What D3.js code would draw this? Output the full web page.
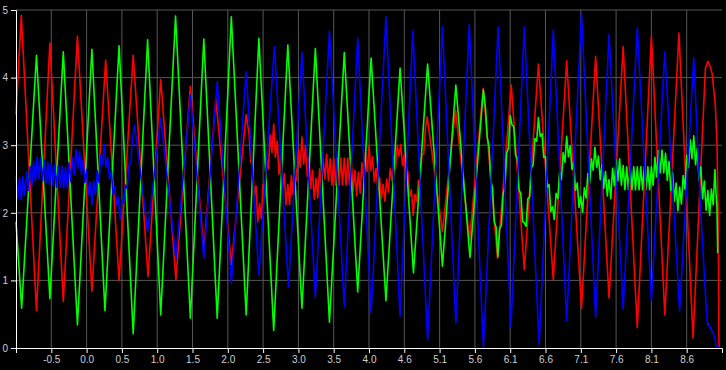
<!DOCTYPE html>
<html><head><meta charset="utf-8">
<script src="https://cdn.jsdelivr.net/npm/d3@7"></script>
<style>
html,body{margin:0;padding:0;background:#000;}
svg{display:block;}
</style></head><body>
<svg id="chart" width="726" height="370"></svg>
<script>
const xTickValues = [-0.5,0,0.5,1,1.5,2,2.5,3,3.5,4,4.5,5,5.5,6,6.5,7,7.5,8,8.5];
const xTickLabels = ["-0.5","0.0","0.5","1.0","1.5","2.0","2.5","3.0","3.5","4.0","4.6","5.1","5.6","6.1","6.6","7.1","7.6","8.1","8.6"];
const yTickValues = [0,1,2,3,4,5];

const red = [[-1.0,3.45],[-0.925,4.92],[-0.71,0.55],[-0.52,4.51],[-0.33,0.69],[-0.13,4.61],[0.075,0.84],[0.27,4.26],[0.46,1.0],[0.66,4.33],[0.87,1.06],[1.05,3.97],[1.265,1.01],[1.47,3.87],[1.66,1.43],[1.83,3.69],[2.05,1.23],[2.26,3.45],
[2.300,3.18],[2.325,2.75],[2.350,2.74],[2.375,2.25],[2.400,2.40],[2.425,1.87],[2.450,2.14],[2.475,1.92],[2.500,2.42],[2.525,2.23],[2.550,2.80],[2.575,2.65],[2.600,3.15],[2.625,2.89],[2.650,3.31],[2.675,2.82],[2.700,3.06],[2.725,2.57],[2.750,2.81],[2.775,2.33],[2.800,2.58],[2.825,2.12],[2.850,2.42],[2.875,2.12],[2.900,2.55],[2.925,2.27],[2.950,2.74],[2.975,2.48],[3.000,2.94],[3.025,2.67],[3.050,3.12],[3.075,2.72],[3.100,2.99],[3.125,2.54],[3.150,2.81],[3.175,2.36],[3.200,2.63],[3.225,2.20],[3.250,2.51],[3.275,2.22],[3.300,2.65],[3.325,2.36],[3.350,2.79],[3.375,2.50],[3.400,2.87],[3.425,2.48],[3.450,2.80],[3.475,2.41],[3.500,2.81],[3.525,2.41],[3.550,2.81],[3.575,2.41],[3.600,2.81],[3.625,2.41],[3.650,2.81],[3.675,2.41],[3.700,2.81],[3.725,2.41],[3.750,2.76],[3.775,2.32],[3.800,2.63],[3.825,2.25],[3.850,2.60],[3.875,2.29],[3.900,2.74],[3.925,2.47],[3.950,2.90],[3.975,2.61],[4.000,3.00],[4.025,2.63],[4.050,2.83],[4.075,2.46],[4.100,2.66],[4.125,2.33],[4.150,2.52],[4.175,2.21],[4.200,2.42],[4.225,2.17],[4.250,2.50],[4.275,2.31],[4.300,2.65],[4.325,2.48],[4.350,2.83],[4.375,2.65],[4.400,3.00],[4.425,2.84],[4.450,3.01],[4.475,2.70],[4.500,2.86],[4.525,2.49],[4.550,2.61],[4.575,2.24],[4.600,2.34],[4.625,1.96],[4.650,2.27],[4.675,2.17],[4.700,2.48],[4.725,2.45],[4.750,2.86],[4.775,2.87],[4.800,3.26],[4.825,3.42],
[5.04,1.72],[5.226,3.52],[5.425,1.60],[5.618,3.84],[5.82,1.33],[6.015,3.89],[6.20,1.16],[6.40,4.20],[6.61,1.01],[6.80,4.25],[7.01,0.59],[7.21,4.31],[7.40,0.74],[7.60,4.46],[7.80,0.30],[8.00,4.61],[8.19,0.49],[8.39,4.66],[8.59,0.15],[8.765,4.14],[8.80,4.24],[8.83,4.17],[8.86,4.06],[8.905,3.60],[8.93,3.0],[8.943,2.12],[8.95,1.40],[8.957,0.0]];

const green = [[-1.0,1.87],[-0.92,0.59],[-0.71,4.33],[-0.52,0.73],[-0.33,4.38],[-0.13,0.34],[0.075,4.42],[0.26,0.55],[0.46,4.47],[0.66,0.21],[0.864,4.56],[1.05,0.49],[1.26,4.91],[1.47,0.44],[1.66,4.57],[1.85,0.44],[2.05,4.90],[2.26,0.49],[2.44,4.58],[2.65,0.26],[2.85,4.48],[3.05,0.59],[3.24,4.43],[3.44,0.38],[3.65,4.37],[3.84,0.83],[4.03,4.29],[4.24,0.70],[4.44,4.14],[4.63,1.11],[4.83,4.20],[5.04,1.21],[5.23,3.89],[5.43,1.34],[5.62,3.82],
[5.650,3.55],[5.675,3.11],[5.700,2.98],[5.725,2.48],[5.750,2.36],[5.775,1.86],[5.800,1.79],[5.825,1.35],[5.850,1.77],[5.875,1.81],[5.900,2.28],[5.925,2.38],[5.950,2.88],[5.975,2.96],[6.000,3.44],[6.025,3.30],[6.050,3.28],[6.075,2.86],[6.100,2.80],[6.125,2.34],[6.150,2.28],[6.175,1.87],[6.200,1.85],[6.225,1.80],[6.250,2.21],[6.275,2.23],[6.300,2.67],[6.325,2.71],[6.350,3.10],[6.375,3.06],[6.400,3.41],[6.425,3.13],[6.450,3.17],[6.475,2.82],[6.500,2.83],[6.525,2.38],[6.550,2.42],[6.575,2.02],[6.600,2.09],[6.625,1.90],[6.650,2.29],[6.675,2.21],[6.700,2.60],[6.725,2.49],[6.750,2.89],[6.775,2.75],[6.800,3.13],[6.825,2.83],[6.850,2.99],[6.875,2.64],[6.900,2.75],[6.925,2.33],[6.950,2.44],[6.975,2.08],[7.000,2.24],[7.025,2.01],[7.050,2.37],[7.075,2.22],[7.100,2.58],[7.125,2.43],[7.150,2.80],[7.175,2.63],[7.200,2.97],[7.225,2.67],[7.250,2.84],[7.275,2.49],[7.300,2.71],[7.325,2.36],[7.350,2.61],[7.375,2.25],[7.400,2.49],[7.425,2.21],[7.450,2.66],[7.475,2.40],[7.500,2.78],[7.525,2.47],[7.550,2.80],[7.575,2.41],[7.600,2.70],[7.625,2.34],[7.650,2.68],[7.675,2.34],[7.700,2.68],[7.725,2.34],[7.750,2.68],[7.775,2.34],[7.800,2.68],[7.825,2.34],[7.850,2.68],[7.875,2.34],[7.900,2.68],[7.925,2.34],[7.950,2.68],[7.975,2.34],[8.000,2.68],[8.025,2.41],[8.050,2.82],[8.075,2.53],[8.100,2.92],[8.125,2.59],[8.150,2.93],[8.175,2.59],[8.200,2.88],[8.225,2.48],[8.250,2.76],[8.275,2.33],[8.300,2.59],[8.325,2.17],[8.350,2.44],[8.375,2.03],[8.400,2.38],[8.425,2.13],[8.450,2.55],[8.475,2.35],[8.500,2.85],[8.525,2.67],[8.550,3.08],[8.575,2.80],[8.600,3.14],[8.625,2.71],[8.650,2.96],[8.675,2.48],[8.700,2.68],[8.725,2.21],[8.750,2.47],[8.775,2.04],[8.800,2.33],[8.825,1.96],[8.850,2.35],[8.875,2.12],[8.900,2.64],[8.915,2.30],[8.929,2.07],[8.939,1.40]];

const blue = [[-1.000,2.55],[-0.975,2.21],[-0.950,2.52],[-0.925,2.19],[-0.900,2.54],[-0.875,2.26],[-0.850,2.61],[-0.825,2.33],[-0.800,2.68],[-0.775,2.40],[-0.750,2.76],[-0.725,2.47],[-0.700,2.83],[-0.675,2.51],[-0.650,2.81],[-0.625,2.47],[-0.600,2.78],[-0.575,2.44],[-0.550,2.75],[-0.525,2.42],[-0.500,2.73],[-0.475,2.40],[-0.450,2.71],[-0.425,2.38],[-0.400,2.70],[-0.375,2.37],[-0.350,2.69],[-0.325,2.36],[-0.300,2.67],[-0.275,2.37],[-0.250,2.74],[-0.225,2.46],[-0.200,2.82],[-0.175,2.56],[-0.150,2.94],[-0.125,2.66],[-0.100,2.91],[-0.075,2.57],[-0.050,2.79],[-0.025,2.45],[0.000,2.64],[0.025,2.27],[0.050,2.46],[0.075,2.12],[0.100,2.47],[0.125,2.27],[0.150,2.62],[0.175,2.45],[0.200,2.85],[0.225,2.71],[0.250,3.02],[0.275,2.67],[0.300,2.82],[0.325,2.49],[0.350,2.62],[0.375,2.27],[0.400,2.39],[0.425,2.11],[0.450,2.23],[0.475,1.90],[0.500,2.20],[0.525,2.14],[0.550,2.41],[0.575,2.36],[0.600,2.70],[0.625,2.74],[0.650,3.10],[0.680,3.30],
[0.865,1.72],[1.05,3.40],[1.265,1.33],[1.47,3.74],[1.66,1.33],[1.85,3.94],[2.05,0.96],[2.26,4.09],[2.44,1.08],[2.66,4.46],[2.86,0.90],[3.05,4.37],[3.24,0.75],[3.44,4.69],[3.65,0.62],[3.84,4.58],[4.03,0.52],[4.24,4.90],[4.44,0.47],[4.62,4.69],[4.83,0.12],[5.04,4.75],[5.23,0.37],[5.42,4.79],[5.62,0.01],[5.83,4.75],[6.01,0.31],[6.20,4.75],[6.41,0.05],[6.61,4.70],[6.80,0.40],[7.01,4.95],[7.21,0.45],[7.40,4.64],[7.60,0.57],[7.80,4.74],[8.00,0.70],[8.19,4.38],[8.40,0.55],[8.60,4.29],[8.694,2.12],[8.765,0.79],[8.79,0.40],[8.80,0.33],[8.815,0.36],[8.83,0.29],[8.845,0.31],[8.86,0.22],[8.875,0.24],[8.89,0.14],[8.90,0.16],[8.915,0.03],[8.975,0.0]];

const seriesList = [
  {name:"red", color:"#ff0000", data:red},
  {name:"green", color:"#00ff00", data:green},
  {name:"blue", color:"#0000ff", data:blue}
];

const W = 726, H = 370;
const margin = {left:16, right:4, top:10, bottom:22};
const svg = d3.select("#chart");
svg.append("rect").attr("width",W).attr("height",H).attr("fill","#000");

const x = d3.scaleLinear().domain([-1, 9]).range([margin.left, W - margin.right]);
const y = d3.scaleLinear().domain([0, 5]).range([H - margin.bottom, margin.top]);

const grid = svg.append("g").attr("stroke","#575757").attr("stroke-width",1);
grid.selectAll("line.h").data(yTickValues.filter(v=>v>0)).join("line")
  .attr("x1", x.range()[0]).attr("x2", x.range()[1])
  .attr("y1", d=>y(d)).attr("y2", d=>y(d));
grid.selectAll("line.v").data(xTickValues).join("line")
  .attr("x1", d=>x(d)).attr("x2", d=>x(d))
  .attr("y1", y.range()[0]).attr("y2", y.range()[1]);

const line = d3.line().x(d=>x(d[0])).y(d=>y(d[1]));
svg.append("g").selectAll("path").data(seriesList).join("path")
  .attr("d", d=>line(d.data))
  .attr("fill","none")
  .attr("stroke", d=>d.color)
  .attr("stroke-width",1.6)
  .attr("stroke-linejoin","round");

const xAxis = d3.axisBottom(x).tickValues(xTickValues).tickSize(5)
  .tickFormat((d,i)=>xTickLabels[i]);
const yAxis = d3.axisLeft(y).tickValues(yTickValues).tickSize(5)
  .tickFormat(d=>String(d));

const gx = svg.append("g").attr("transform",`translate(0,${y(0)})`).call(xAxis);
const gy = svg.append("g").attr("transform",`translate(${x(-1)},0)`).call(yAxis);
[gx, gy].forEach(g=>{
  g.selectAll(".domain").attr("stroke","#fff");
  g.selectAll(".tick line").attr("stroke","#fff");
  g.selectAll(".tick text").attr("fill","#cfcfcf")
   .style("font-family","'Liberation Sans', Arial, sans-serif").style("font-size","10px");
});
</script>
</body></html>
